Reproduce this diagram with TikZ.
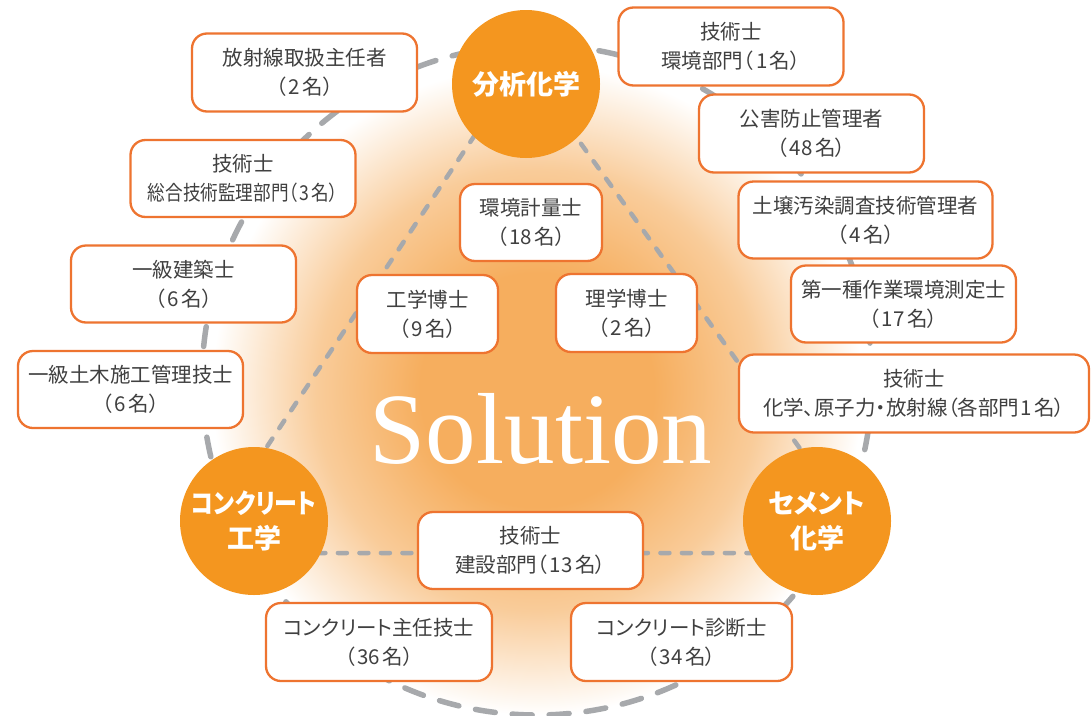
\documentclass[tikz,border=0pt]{standalone}
\usepackage{fontspec}
\usepackage{graphicx}
\setmainfont{Liberation Serif}
\newfontfamily\jp{Noto Sans CJK JP}
\newfontfamily\jpp[RawFeature=+palt]{Noto Sans CJK JP}
\newcommand\ninzu[1]{（\kern2.5pt#1\kern2.5pt名）}
\definecolor{circor}{HTML}{F4961F}
\definecolor{boxor}{HTML}{EE7430}
\definecolor{lgray}{HTML}{A7A9AC}
\definecolor{glowA}{HTML}{F6AE5E}
\definecolor{glowB}{HTML}{F9CC9A}
\definecolor{txt}{HTML}{404040}
\pgfdeclareradialshading{glow}{\pgfpoint{0bp}{0bp}}{color(0bp)=(glowA); color(9bp)=(glowA); color(17bp)=(glowB); color(25bp)=(white); color(50bp)=(white)}
\begin{document}
\begin{tikzpicture}[x=1pt,y=-1pt,
  quali/.style={draw=boxor, line width=2.3pt, fill=white, rounded corners=15pt,
    align=center, inner sep=0pt, text=txt,
    font=\jpp\fontsize{20.5}{29}\selectfont},
  field/.style={circle, fill=circor, minimum size=148pt, inner sep=0pt,
    align=center, text=white, font=\jpp\bfseries\fontsize{27}{35}\selectfont},
  outerline/.style={draw=lgray, line width=5.5pt, line cap=round, dash pattern=on 20pt off 17pt},
  triline/.style={draw=lgray, line width=4.5pt, line cap=round, dash pattern=on 9pt off 12.5pt}]
\useasboundingbox (0,0) rectangle (1091,715);
\fill[white] (0,0) rectangle (1091,715);
% glow
\coordinate (gc) at (537,390);
\shade[shading=glow] (gc) circle (325pt);
% outer dashed circle
\coordinate (oc) at (537,380);
\draw[outerline] (oc) circle (335pt);
% triangle
\coordinate (tA) at (523,63);
\coordinate (tB) at (196,553);
\coordinate (tC) at (875,553);
\draw[triline] (tA) -- (tB) -- (tC) -- cycle;
% fields
\node[field] (f1) at (526,84) {分析化学};
\node[field] (f2) at (254,521) {\scalebox{0.85}[1]{コンクリート}\\工学};
\node[field] (f3) at (817,521) {セメント\\化学};
% qualification boxes
\node[quali, minimum width=225pt, minimum height=78pt] (b1) at (304.5,72.5) {放射線取扱主任者\\\ninzu{2}};
\node[quali, minimum width=225pt, minimum height=78pt] (b2) at (731,46.5) {技術士\\環境部門\ninzu{1}};
\node[quali, minimum width=225pt, minimum height=78pt] (b3) at (811.5,133.5) {公害防止管理者\\\ninzu{48}};
\node[quali, minimum width=254pt, minimum height=77pt] (b4) at (865.5,220) {土壌汚染調査技術管理者\\\ninzu{4}};
\node[quali, minimum width=225pt, minimum height=77pt] (b5) at (903.5,304) {第一種作業環境測定士\\\ninzu{17}};
\node[quali, minimum width=350pt, minimum height=78pt] (b6) at (914,393.5) {技術士\\化学、原子力・放射線（各部門\kern1pt 1\kern2.5pt 名）};
\node[quali, minimum width=225pt, minimum height=77pt] (b7) at (243,178.5) {技術士\\\scalebox{0.86}[1]{総合技術監理部門\ninzu{3}}};
\node[quali, minimum width=225pt, minimum height=77pt] (b8) at (183.5,284) {一級建築士\\\ninzu{6}};
\node[quali, minimum width=225pt, minimum height=77pt] (b9) at (130.5,389.5) {一級土木施工管理技士\\\ninzu{6}};
\node[quali, minimum width=142pt, minimum height=77pt] (b10) at (531,222.5) {環境計量士\\\ninzu{18}};
\node[quali, minimum width=141pt, minimum height=78pt] (b11) at (427.5,314) {工学博士\\\ninzu{9}};
\node[quali, minimum width=141pt, minimum height=78pt] (b12) at (626.5,313) {理学博士\\\ninzu{2}};
\node[quali, minimum width=225pt, minimum height=77pt] (b13) at (530.5,550.5) {技術士\\建設部門\ninzu{13}};
\node[quali, minimum width=226pt, minimum height=78pt] (b14) at (379,642) {コンクリート主任技士\\\ninzu{36}};
\node[quali, minimum width=221pt, minimum height=78pt] (b15) at (681.5,642) {コンクリート診断士\\\ninzu{34}};
% title
\node[anchor=base, inner sep=0pt, text=white, font=\fontsize{101}{101}\selectfont] (sol) at (541,463) {Solution};
\end{tikzpicture}
\end{document}
